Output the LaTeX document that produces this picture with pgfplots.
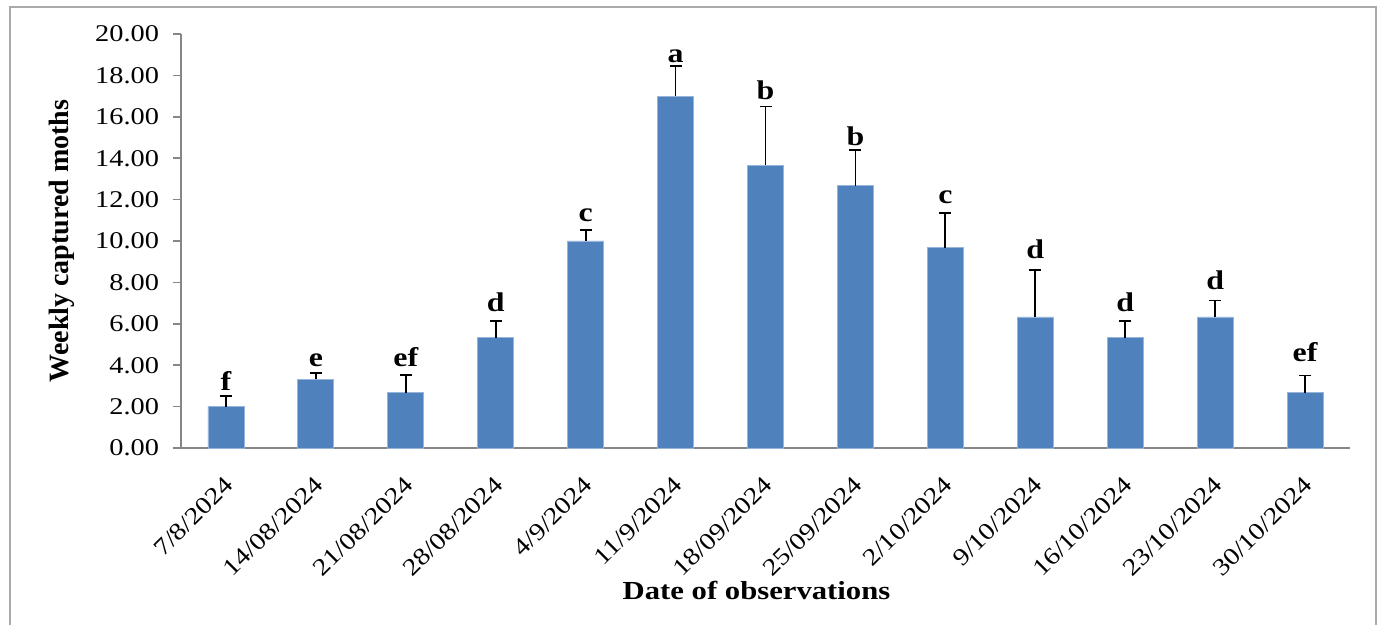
\documentclass[border=0pt]{standalone}
\usepackage{fontspec}
\setmainfont{Liberation Serif}[FakeStretch=1.18]
\newfontfamily\ylabfont{Liberation Serif}
\usepackage{pgfplots}
\pgfplotsset{compat=1.18}
\usepackage{pgfplotstable}
\definecolor{barblue}{RGB}{79,129,189}
\definecolor{baredge}{RGB}{150,180,220}
\definecolor{axgray}{RGB}{134,134,134}
\definecolor{framegray}{RGB}{170,170,170}

\pgfplotstableread{
x y err ly lab
0 2.00 0.50 2.78 f
1 3.33 0.30 3.93 e
2 2.67 0.86 3.93 ef
3 5.33 0.82 6.58 d
4 10.00 0.53 10.92 c
5 17.00 1.46 18.63 a
6 13.67 2.83 16.83 b
7 12.67 1.74 14.62 b
8 9.67 1.70 11.81 c
9 6.33 2.25 9.17 d
10 5.33 0.80 6.57 d
11 6.33 0.80 7.68 d
12 2.67 0.83 4.16 ef
}\datatable

\begin{document}
\begin{tikzpicture}
\useasboundingbox (-90.5pt,-88.5pt) rectangle (598pt,224pt);
\draw[framegray, line width=0.8pt] (-85.5pt,-88.5pt) -- (-85.5pt,220.5pt) -- (597.5pt,220.5pt) -- (597.5pt,-88.5pt);
\begin{axis}[
  at={(0,0)}, anchor=south west,
  scale only axis,
  width=584.5pt, height=207pt,
  xmin=-0.5, xmax=12.5,
  ymin=0, ymax=20,
  axis x line*=bottom,
  axis y line*=left,
  axis line style={axgray, line width=0.8pt, -},
  tick style={axgray, line width=0.8pt},
  tick align=outside,
  ytick={0,2,...,20},
  /pgf/number format/fixed,
  /pgf/number format/fixed zerofill,
  /pgf/number format/precision=2,
  /pgf/number format/assume math mode=true,
  yticklabel style={font=\fontsize{12}{14}\selectfont, xshift=-3.5pt},
  major tick length=4pt,
  xtick={0,...,12},
  xticklabels={7/8/2024,14/08/2024,21/08/2024,28/08/2024,4/9/2024,11/9/2024,18/09/2024,25/09/2024,2/10/2024,9/10/2024,16/10/2024,23/10/2024,30/10/2024},
  xtick style={draw=none},
  minor xtick={-0.5,0.5,...,12.5},
  minor tick length=4pt,
  xticklabel style={font=\fontsize{12}{14}\selectfont, xshift=-1.5pt, yshift=-4.6pt, rotate=45, anchor=north east},
  xlabel={\textbf{Date of observations}},
  ylabel={\textbf{Weekly captured moths}},
  xlabel style={font=\fontsize{13}{15}\selectfont, at={(axis description cs:0.5,0)}, anchor=center, yshift=-71pt, xshift=-4.5pt},
  ylabel style={font=\ylabfont\fontsize{14}{16}\selectfont, at={(axis description cs:0,0.5)}, anchor=center, yshift=59.5pt},
  clip=false,
]
\addplot[ybar, bar width=18pt, fill=barblue, draw=baredge, line width=0.4pt,
  error bars/.cd, y dir=plus, y explicit,
  error bar style={black, line width=0.9pt},
  error mark options={black, line width=0.9pt, mark size=3pt, rotate=90}]
  table[x=x, y=y, y error=err] {\datatable};
\addplot[only marks, mark=none,
  nodes near coords, point meta=explicit symbolic,
  every node near coord/.style={font=\fontsize{13.5}{15}\selectfont\bfseries, anchor=base, inner sep=0pt, yshift=0pt}]
  table[x=x, y=ly, meta=lab] {\datatable};
\end{axis}
\end{tikzpicture}
\end{document}
